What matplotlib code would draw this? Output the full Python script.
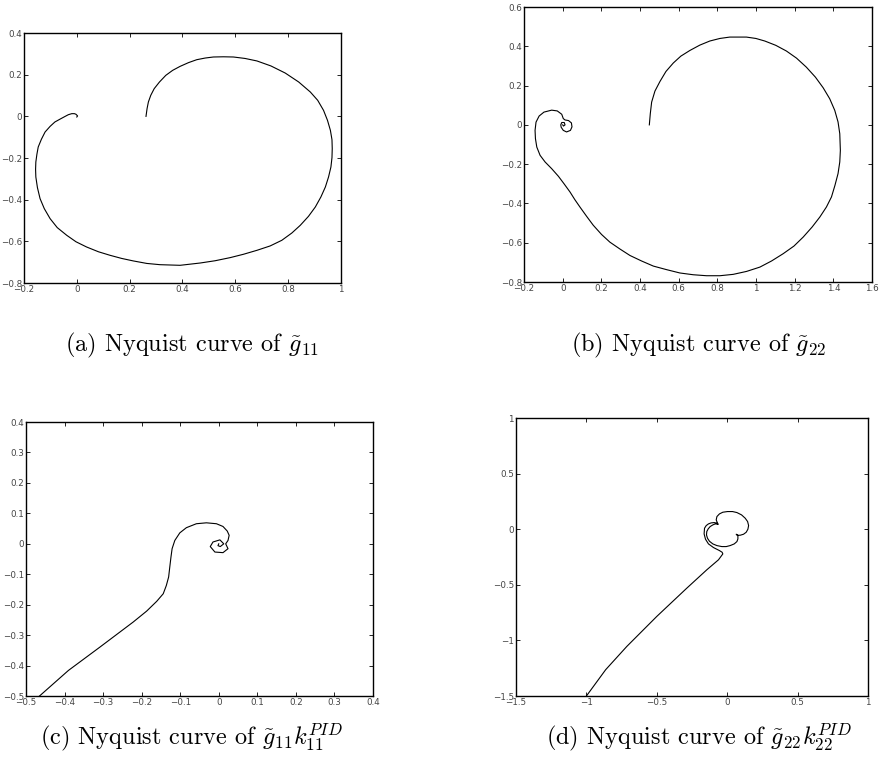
import matplotlib.pyplot as plt
from matplotlib.ticker import FuncFormatter
import numpy as np

# Nyquist curve of g11 (real, imag)
g11_re = [0.262, 0.266, 0.271, 0.280, 0.293, 0.313, 0.337, 0.363, 0.391, 0.423,
          0.454, 0.486, 0.517, 0.555, 0.593, 0.637, 0.682, 0.735, 0.789, 0.840,
          0.884, 0.912, 0.934, 0.949, 0.960, 0.966, 0.967, 0.966, 0.962, 0.953,
          0.941, 0.924, 0.903, 0.877, 0.846, 0.814, 0.776, 0.732, 0.682, 0.631,
          0.581, 0.524, 0.467, 0.391, 0.315, 0.265, 0.214, 0.170, 0.126, 0.082,
          0.037, -0.003, -0.038, -0.074, -0.101, -0.123, -0.139, -0.149, -0.155, -0.156,
          -0.155, -0.151, -0.146, -0.134, -0.120, -0.101, -0.083, -0.063, -0.044, -0.032,
          -0.019, -0.009, -0.003, 0.003, 0.0]
g11_im = [0.0, 0.037, 0.069, 0.101, 0.133, 0.165, 0.197, 0.221, 0.240, 0.258,
          0.272, 0.280, 0.285, 0.286, 0.285, 0.278, 0.266, 0.242, 0.208, 0.165,
          0.117, 0.077, 0.029, -0.019, -0.067, -0.112, -0.155, -0.198, -0.243, -0.291,
          -0.339, -0.387, -0.435, -0.480, -0.523, -0.560, -0.595, -0.622, -0.643, -0.662,
          -0.678, -0.693, -0.704, -0.715, -0.712, -0.706, -0.694, -0.682, -0.667, -0.650,
          -0.627, -0.602, -0.571, -0.534, -0.491, -0.443, -0.395, -0.342, -0.291, -0.254,
          -0.219, -0.182, -0.147, -0.110, -0.075, -0.048, -0.027, -0.013, 0.0, 0.008,
          0.013, 0.013, 0.010, 0.002, -0.003]

# Nyquist curve of g22
g22_re = [0.448, 0.453, 0.460, 0.477, 0.503, 0.534, 0.572, 0.611, 0.658, 0.709,
          0.761, 0.813, 0.864, 0.950, 0.999, 1.045, 1.102, 1.157, 1.209, 1.260,
          1.307, 1.347, 1.381, 1.407, 1.424, 1.433, 1.436, 1.433, 1.424, 1.408,
          1.390, 1.364, 1.330, 1.290, 1.244, 1.196, 1.140, 1.080, 1.020, 0.951,
          0.882, 0.813, 0.744, 0.675, 0.606, 0.537, 0.469, 0.408, 0.348, 0.296,
          0.244, 0.201, 0.158, 0.124, 0.089, 0.063, 0.038, 0.007, -0.022, -0.057,
          -0.091, -0.117, -0.134, -0.141, -0.143, -0.138, -0.122, -0.097, -0.057, -0.028,
          -0.005, 0.003, 0.012, 0.030, 0.045, 0.048, 0.040, 0.020, 0.003, -0.008,
          -0.010, -0.005, 0.008, 0.012, 0.004, 0.0]
g22_im = [0.0, 0.057, 0.116, 0.172, 0.221, 0.272, 0.315, 0.350, 0.379, 0.406,
          0.427, 0.440, 0.447, 0.447, 0.440, 0.427, 0.405, 0.376, 0.340, 0.294,
          0.243, 0.189, 0.133, 0.074, 0.015, -0.045, -0.130, -0.189, -0.248, -0.308,
          -0.367, -0.418, -0.469, -0.520, -0.571, -0.617, -0.656, -0.693, -0.724, -0.746,
          -0.761, -0.768, -0.768, -0.763, -0.754, -0.737, -0.719, -0.693, -0.665, -0.632,
          -0.597, -0.558, -0.511, -0.466, -0.418, -0.381, -0.342, -0.300, -0.262, -0.223,
          -0.189, -0.155, -0.113, -0.070, -0.028, 0.014, 0.045, 0.065, 0.075, 0.071,
          0.054, 0.032, 0.025, 0.022, 0.010, -0.010, -0.028, -0.036, -0.028, -0.012,
          0.0, 0.012, 0.012, 0.0, -0.006, 0.0]

# Nyquist curve of g11 * k11 (PID)
l11_re = [-0.465, -0.390, -0.308, -0.222, -0.187, -0.161, -0.144, -0.136, -0.130, -0.127,
          -0.124, -0.121, -0.114, -0.101, -0.084, -0.058, -0.032, -0.006, 0.011, 0.022,
          0.027, 0.024, 0.018, 0.024, 0.011, -0.010, -0.022, -0.015, 0.003, 0.013,
          0.004, -0.002, 0.0]
l11_im = [-0.5, -0.416, -0.339, -0.257, -0.221, -0.189, -0.164, -0.137, -0.109, -0.076,
          -0.044, -0.016, 0.011, 0.036, 0.053, 0.066, 0.069, 0.066, 0.057, 0.042,
          0.028, 0.011, 0.0, -0.016, -0.029, -0.027, -0.009, 0.006, 0.013, 0.0,
          -0.009, -0.006, 0.0]

# Nyquist curve of g22 * k22 (PID)
l22_re = [-1.0, -0.863, -0.713, -0.5, -0.287, -0.145, -0.062, -0.031, -0.036, -0.055,
          -0.097, -0.133, -0.154, -0.164, -0.161, -0.149, -0.133, -0.114, -0.092, -0.073,
          -0.066, -0.078, -0.073, -0.055, -0.031, 0.002, 0.038, 0.069, 0.102, 0.128,
          0.145, 0.152, 0.147, 0.135, 0.116, 0.092, 0.076, 0.064, 0.076, 0.076,
          0.069, 0.050, 0.021, -0.007, -0.038, -0.073, -0.102, -0.126, -0.140, -0.147,
          -0.145, -0.135, -0.121, -0.102, -0.085, -0.066]
l22_im = [-1.5, -1.263, -1.054, -0.784, -0.530, -0.365, -0.275, -0.222, -0.207, -0.192,
          -0.165, -0.132, -0.090, -0.042, 0.009, 0.033, 0.048, 0.057, 0.060, 0.054,
          0.045, 0.084, 0.114, 0.138, 0.153, 0.159, 0.159, 0.150, 0.129, 0.099,
          0.069, 0.033, 0.0, -0.027, -0.045, -0.054, -0.054, -0.045, -0.060, -0.087,
          -0.111, -0.132, -0.147, -0.156, -0.156, -0.147, -0.132, -0.108, -0.081, -0.051,
          -0.021, 0.003, 0.024, 0.039, 0.048, 0.045]

xlims = [(-0.2, 1.0), (-0.2, 1.6), (-0.5, 0.4), (-1.5, 1.0)]
ylims = [(-0.8, 0.4), (-0.8, 0.6), (-0.5, 0.4), (-1.5, 1.0)]
xsteps = [0.2, 0.2, 0.1, 0.5]
ysteps = [0.2, 0.2, 0.1, 0.5]
captions = [r'(a) Nyquist curve of $\tilde{g}_{11}$',
            r'(b) Nyquist curve of $\tilde{g}_{22}$',
            r'(c) Nyquist curve of $\tilde{g}_{11}k_{11}^{PID}$',
            r'(d) Nyquist curve of $\tilde{g}_{22}k_{22}^{PID}$']

# axes boxes in figure fractions [left, bottom, width, height]
boxes = [[0.0271, 0.6334, 0.3586, 0.3238],
         [0.5928, 0.6347, 0.3937, 0.3562],
         [0.0294, 0.0984, 0.3925, 0.3549],
         [0.5837, 0.0984, 0.3982, 0.3601]]
cap_pos = [(0.217, 0.553), (0.791, 0.553), (0.217, 0.045), (0.791, 0.045)]

plt.rcParams['mathtext.fontset'] = 'cm'


def fmt(v, pos):
    v = round(v, 6)
    if v == 0:
        return '0'
    return f'{v:g}'.replace('-', '\u2212')


fig = plt.figure(figsize=(8.84, 7.72), dpi=100)
curves = [(g11_re, g11_im), (g22_re, g22_im), (l11_re, l11_im), (l22_re, l22_im)]

for i, (re, im) in enumerate(curves):
    ax = fig.add_axes(boxes[i])
    ax.plot(re, im, color='black', linewidth=0.8)
    ax.set_xlim(*xlims[i])
    ax.set_ylim(*ylims[i])
    ax.set_xticks(np.arange(xlims[i][0], xlims[i][1] + 1e-9, xsteps[i]))
    ax.set_yticks(np.arange(ylims[i][0], ylims[i][1] + 1e-9, ysteps[i]))
    ax.xaxis.set_major_formatter(FuncFormatter(fmt))
    ax.yaxis.set_major_formatter(FuncFormatter(fmt))
    ax.tick_params(direction='in', top=True, right=True, length=3, width=0.6,
                   labelsize=6.3, labelcolor='#444444', pad=1.5)
    for s in ax.spines.values():
        s.set_linewidth(1.0)
    fig.text(cap_pos[i][0], cap_pos[i][1], captions[i], ha='center', va='center',
             fontsize=17.5, family='cmr10')

fig.savefig('out.png', dpi=100)
